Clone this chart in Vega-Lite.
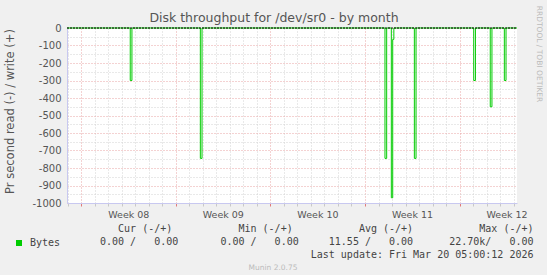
{
  "$schema": "https://vega.github.io/schema/vega-lite/v6.json",
  "width": 450,
  "height": 175,
  "autosize": {"type": "none"},
  "padding": {"left": 67, "top": 28, "right": 30, "bottom": 72},
  "background": "#f0f0f0",
  "config": {"view": {"fill": "white", "stroke": null}},
  "title": {
    "text": "Disk throughput for /dev/sr0 - by month",
    "font": "DejaVu Sans", "fontSize": 12.5, "fontWeight": "normal", "color": "#555555",
    "baseline": "alphabetic", "offset": -29, "anchor": "middle", "dx": -18
  },
  "data": {
    "values": [
      {"t": "2026-02-14T22:40:00Z", "v": 0},
      {"t": "2026-02-19T15:00:00Z", "v": -300},
      {"t": "2026-02-19T18:00:00Z", "v": 0},
      {"t": "2026-02-24T19:30:00Z", "v": -745},
      {"t": "2026-02-24T22:30:00Z", "v": 0},
      {"t": "2026-03-10T11:30:00Z", "v": -745},
      {"t": "2026-03-10T14:30:00Z", "v": 0},
      {"t": "2026-03-10T22:45:00Z", "v": -970},
      {"t": "2026-03-11T01:15:00Z", "v": -65},
      {"t": "2026-03-11T03:15:00Z", "v": 0},
      {"t": "2026-03-12T15:40:00Z", "v": -745},
      {"t": "2026-03-12T18:40:00Z", "v": 0},
      {"t": "2026-03-17T01:10:00Z", "v": -300},
      {"t": "2026-03-17T04:10:00Z", "v": 0},
      {"t": "2026-03-18T06:30:00Z", "v": -450},
      {"t": "2026-03-18T09:30:00Z", "v": 0},
      {"t": "2026-03-19T07:30:00Z", "v": -300},
      {"t": "2026-03-19T10:30:00Z", "v": 0},
      {"t": "2026-03-20T06:00:00Z", "v": 0}
    ]
  },
  "layer": [
    {
      "mark": {"type": "line", "interpolate": "step-after", "strokeWidth": 1},
      "encoding": {
        "x": {
          "field": "t", "type": "temporal",
          "scale": {"type": "utc", "nice": false, "domain": [
            {"year": 2026, "month": 2, "date": 14, "hours": 22, "minutes": 40, "utc": true},
            {"year": 2026, "month": 3, "date": 20, "hours": 6, "utc": true}
          ]},
          "axis": {
            "orient": "bottom",
            "tickCount": {"interval": "day", "step": 1},
            "grid": true,
            "gridColor": {"condition": {"test": "utcday(datum.value) === 1", "value": "#e8a4a4"}, "value": "#d2d2d2"},
            "gridDash": [1, 2],
            "ticks": true, "tickSize": 3,
            "tickColor": {"condition": {"test": "utcday(datum.value) === 1", "value": "#e07a7a"}, "value": "#c8c8c8"},
            "domain": true, "domainColor": "#c8c8f0",
            "labelExpr": "utcday(datum.value) === 1 ? 'Week ' + utcFormat(datum.value, '%V') : ''",
            "labelOffset": 47, "labelFlush": false, "labelOverlap": false, "labelBound": false,
            "labelFont": "DejaVu Sans", "labelFontSize": 9.5, "labelColor": "#555555", "labelPadding": 3,
            "title": [
              "Cur (-/+)\u00a0\u00a0\u00a0\u00a0\u00a0\u00a0\u00a0\u00a0\u00a0\u00a0\u00a0Min (-/+)\u00a0\u00a0\u00a0\u00a0\u00a0\u00a0\u00a0\u00a0\u00a0\u00a0\u00a0Avg (-/+)\u00a0\u00a0\u00a0\u00a0\u00a0\u00a0\u00a0\u00a0\u00a0\u00a0\u00a0Max (-/+)\u00a0",
              "0.00 /\u00a0\u00a0\u00a00.00\u00a0\u00a0\u00a0\u00a0\u00a0\u00a0\u00a00.00 /\u00a0\u00a0\u00a00.00\u00a0\u00a0\u00a0\u00a0\u00a011.55 /\u00a0\u00a0\u00a00.00\u00a0\u00a0\u00a0\u00a0\u00a0\u00a022.70k/\u00a0\u00a0\u00a00.00\u00a0",
              "Last update: Fri Mar 20 05:00:12 2026"
            ],
            "titleFont": "DejaVu Sans Mono", "titleFontSize": 10, "titleFontWeight": "normal", "titleColor": "#444444",
            "titleAlign": "right", "titleX": 466, "titleY": 28.8, "titleBaseline": "alphabetic", "titleLineHeight": 12.8
          }
        },
        "y": {
          "field": "v", "type": "quantitative",
          "scale": {"domain": [-1000, 0], "nice": false, "zero": false},
          "axis": {
            "orient": "left",
            "values": [-1000, -950, -900, -850, -800, -750, -700, -650, -600, -550, -500, -450, -400, -350, -300, -250, -200, -150, -100, -50, 0],
            "grid": true,
            "gridColor": {"condition": {"test": "datum.value % 100 === 0", "value": "#e8a4a4"}, "value": "#d2d2d2"},
            "gridDash": [1, 2],
            "ticks": false,
            "domain": true, "domainColor": "#c8c8f0",
            "labelExpr": "datum.value % 100 === 0 ? '' + datum.value : ''",
            "labelFont": "DejaVu Sans", "labelFontSize": 10, "labelColor": "#555555", "labelPadding": 6,
            "labelOverlap": false, "labelFlush": false, "labelBound": false,
            "title": "Pr second read (-) / write (+)",
            "titleFont": "DejaVu Sans", "titleFontSize": 11.5, "titleFontWeight": "normal", "titleColor": "#555555",
            "titleX": -57, "titleY": 83, "titleAngle": 270, "titleAlign": "center", "titleBaseline": "middle"
          }
        },
        "color": {
          "datum": "Bytes", "type": "nominal",
          "scale": {"range": ["#00cc00"]},
          "legend": {
            "orient": "none", "legendX": -53, "legendY": 210, "title": null, "padding": 0,
            "symbolType": "square", "symbolSize": 4, "symbolStrokeWidth": 4,
            "labelFont": "DejaVu Sans Mono", "labelFontSize": 10, "labelColor": "#444444", "labelOffset": 6
          }
        }
      }
    },
    {
      "mark": {"type": "line", "color": "#000000", "strokeWidth": 1, "strokeDash": [2, 1]},
      "encoding": {
        "x": {
          "field": "t", "type": "temporal",
          "axis": {
            "orient": "bottom", "domain": false, "ticks": false, "labels": false, "grid": false,
            "title": "Munin 2.0.75", "titleFont": "DejaVu Sans", "titleFontSize": 7.5, "titleFontWeight": "normal",
            "titleColor": "#bbbbbb", "titleX": 205.5, "titleY": 66.5, "titleAlign": "center", "titleBaseline": "alphabetic"
          }
        },
        "y": {
          "datum": 0, "type": "quantitative",
          "axis": {
            "orient": "right", "domain": false, "ticks": false, "labels": false, "grid": false,
            "title": "RRDTOOL / TOBI OETIKER", "titleFont": "DejaVu Sans", "titleFontSize": 7.5, "titleFontWeight": "normal",
            "titleColor": "#bbbbbb", "titleAngle": 90, "titleX": 21.3, "titleY": 25.5, "titleAlign": "center", "titleBaseline": "middle"
          }
        }
      }
    }
  ],
  "resolve": {"axis": {"x": "independent", "y": "independent"}}
}
